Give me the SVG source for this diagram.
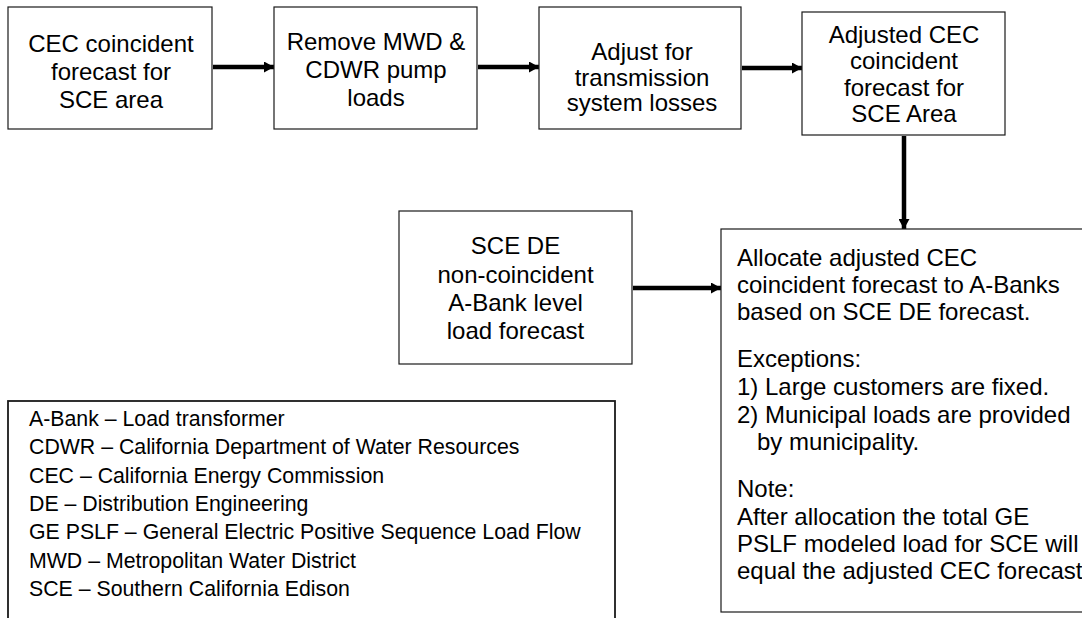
<svg xmlns="http://www.w3.org/2000/svg" width="1082" height="618" viewBox="0 0 1082 618">
<style>
.box{fill:#fff;stroke:#1a1a1a;stroke-width:1.2}
.t{font-family:"Liberation Sans",Arial,sans-serif;font-size:24px;fill:#000;text-anchor:middle}
.n{font-family:"Liberation Sans",Arial,sans-serif;font-size:24px;fill:#000}
.l{font-family:"Liberation Sans",Arial,sans-serif;font-size:21.3px;fill:#000}
.arr{stroke:#000;stroke-width:4.5;fill:none;marker-end:url(#ah)}
</style>
<defs>
<marker id="ah" markerUnits="userSpaceOnUse" markerWidth="10" markerHeight="11" refX="10" refY="5.5" orient="auto">
<path d="M0,0 L10,5.5 L0,11 z" fill="#000"/>
</marker>
</defs>
<rect width="1082" height="618" fill="#fff"/>
<g id="connectors">
<line class="arr" x1="213" y1="67" x2="274" y2="67"/>
<line class="arr" x1="478" y1="67" x2="539" y2="67"/>
<line class="arr" x1="742" y1="68" x2="802" y2="68"/>
<line class="arr" x1="904" y1="136" x2="904" y2="229"/>
<line class="arr" x1="633" y1="288" x2="721" y2="288"/>
</g>
<g id="n1">
<rect class="box" x="8" y="7" width="204" height="122"/>
<text class="t" x="111" y="52">CEC coincident</text>
<text class="t" x="111" y="80">forecast for</text>
<text class="t" x="111" y="108">SCE area</text>
</g>
<g id="n2">
<rect class="box" x="274" y="7" width="203" height="122"/>
<text class="t" x="376" y="50">Remove MWD &amp;</text>
<text class="t" x="376" y="78">CDWR pump</text>
<text class="t" x="376" y="106">loads</text>
</g>
<g id="n3">
<rect class="box" x="539" y="7" width="202" height="122"/>
<text class="t" x="642" y="60">Adjust for</text>
<text class="t" x="642" y="86">transmission</text>
<text class="t" x="642" y="111">system losses</text>
</g>
<g id="n4">
<rect class="box" x="802" y="12" width="203" height="123"/>
<text class="t" x="904" y="43">Adjusted CEC</text>
<text class="t" x="904" y="69">coincident</text>
<text class="t" x="904" y="96">forecast for</text>
<text class="t" x="904" y="122">SCE Area</text>
</g>
<g id="n5">
<rect class="box" x="399" y="211" width="233" height="153"/>
<text class="t" x="515.5" y="254">SCE DE</text>
<text class="t" x="515.5" y="283">non-coincident</text>
<text class="t" x="515.5" y="311">A-Bank level</text>
<text class="t" x="515.5" y="339">load forecast</text>
</g>
<g id="n6">
<rect class="box" x="721" y="229" width="380" height="383"/>
<text class="n" x="737" y="266">Allocate adjusted CEC</text>
<text class="n" x="737" y="293">coincident forecast to A-Banks</text>
<text class="n" x="737" y="320">based on SCE DE forecast.</text>
<text class="n" x="737" y="367">Exceptions:</text>
<text class="n" x="737" y="395">1) Large customers are fixed.</text>
<text class="n" x="737" y="423">2) Municipal loads are provided</text>
<text class="n" x="757" y="450">by municipality.</text>
<text class="n" x="737" y="497">Note:</text>
<text class="n" x="737" y="525">After allocation the total GE</text>
<text class="n" x="737" y="552">PSLF modeled load for SCE will</text>
<text class="n" x="737" y="579">equal the adjusted CEC forecast</text>
</g>
<g id="legend">
<rect class="box" x="8" y="401" width="607" height="230" style="stroke-width:1.8"/>
<text class="l" x="29" y="426">A-Bank – Load transformer</text>
<text class="l" x="29" y="454">CDWR – California Department of Water Resources</text>
<text class="l" x="29" y="483">CEC – California Energy Commission</text>
<text class="l" x="29" y="511">DE – Distribution Engineering</text>
<text class="l" x="29" y="539">GE PSLF – General Electric Positive Sequence Load Flow</text>
<text class="l" x="29" y="568">MWD – Metropolitan Water District</text>
<text class="l" x="29" y="596">SCE – Southern California Edison</text>
</g>
</svg>
